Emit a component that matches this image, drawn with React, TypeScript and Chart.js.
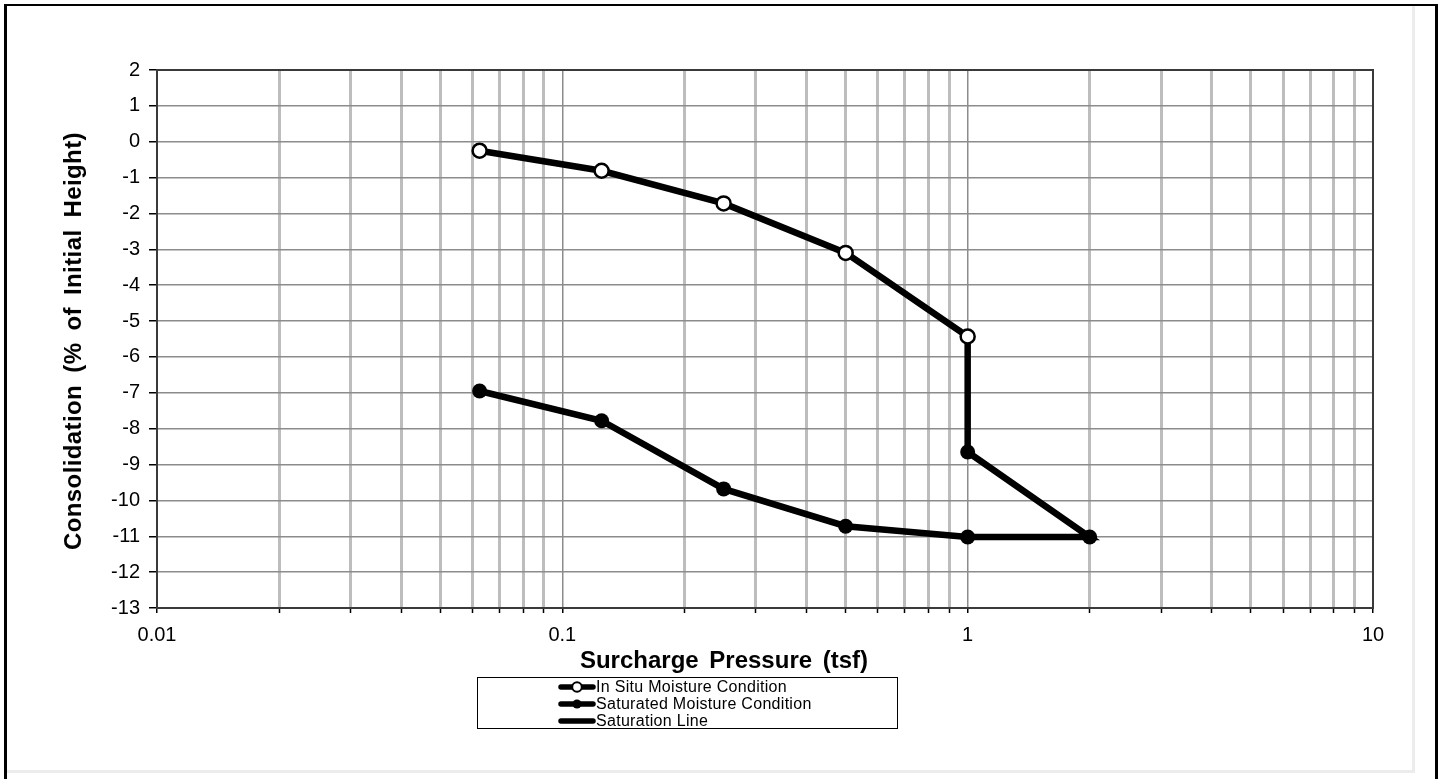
import React, { useEffect, useRef } from "react";
import { Chart, registerables } from "chart.js";

Chart.register(...registerables);

// ---- data ----
const IN_SITU_X = [0.0625, 0.125, 0.25, 0.5, 1];
const IN_SITU_Y = [-0.25, -0.81, -1.72, -3.1, -5.43];

const SATURATED_X = [1, 2, 1, 0.5, 0.25, 0.125, 0.0625];
const SATURATED_Y = [-8.65, -11.02, -11.02, -10.72, -9.68, -7.78, -6.95];

const SAT_LINE_X = [1, 1];
const SAT_LINE_Y = [-5.43, -8.65];

const X_GRID = [
  0.01, 0.02, 0.03, 0.04, 0.05, 0.06, 0.07, 0.08, 0.09,
  0.1, 0.2, 0.3, 0.4, 0.5, 0.6, 0.7, 0.8, 0.9,
  1, 2, 3, 4, 5, 6, 7, 8, 9, 10,
];
const X_MAJOR = [0.01, 0.1, 1, 10];
const X_MAJOR_LABELS = ["0.01", "0.1", "1", "10"];

const Y_MIN = -13;
const Y_MAX = 2;

const SERIES_NAMES = [
  "In Situ Moisture Condition",
  "Saturated Moisture Condition",
  "Saturation Line",
];

const X_TITLE = "Surcharge Pressure (tsf)";
const Y_TITLE = "Consolidation (% of Initial Height)";

const FONT = "'Liberation Sans', Arial, sans-serif";

function majorIndex(v: number | undefined): number {
  if (v === undefined || v === null) return -1;
  return X_MAJOR.findIndex((m) => Math.abs(Math.log10(m) - Math.log10(v)) < 1e-6);
}

function pts(xs: number[], ys: number[]) {
  return xs.map((x, i) => ({ x, y: ys[i] }));
}

const framePlugin = {
  id: "plotFrame",
  beforeDatasetsDraw(chart: any) {
    const { ctx, chartArea } = chart;
    ctx.save();
    ctx.strokeStyle = "#3a3a3a";
    ctx.lineWidth = 2;
    ctx.strokeRect(chartArea.left, chartArea.top, chartArea.right - chartArea.left, chartArea.bottom - chartArea.top);
    ctx.restore();
  },
};

function LegendSymbol({ kind }: { kind: number }) {
  return (
    <svg width={40} height={14} style={{ display: "block" }}>
      <line x1={3} y1={7} x2={35} y2={7} stroke="#000" strokeWidth={5.5} strokeLinecap="round" />
      {kind === 0 && <circle cx={19} cy={7} r={4.8} fill="#fff" stroke="#000" strokeWidth={2} />}
      {kind === 1 && <circle cx={19} cy={7} r={4.5} fill="#000" />}
    </svg>
  );
}

export default function App() {
  const canvasRef = useRef<HTMLCanvasElement | null>(null);

  useEffect(() => {
    const canvas = canvasRef.current;
    if (!canvas) return;
    const chart = new Chart(canvas, {
      type: "scatter",
      data: {
        datasets: [
          {
            label: SERIES_NAMES[0],
            data: pts(IN_SITU_X, IN_SITU_Y),
            showLine: true,
            borderColor: "#000",
            borderWidth: 6.5,
            pointRadius: 7,
            pointBorderWidth: 2.5,
            pointBackgroundColor: "#fff",
            pointBorderColor: "#000",
            order: 1,
          },
          {
            label: SERIES_NAMES[1],
            data: pts(SATURATED_X, SATURATED_Y),
            showLine: true,
            borderColor: "#000",
            borderWidth: 6.5,
            pointRadius: 7.5,
            pointBorderWidth: 0,
            pointBackgroundColor: "#000",
            pointBorderColor: "#000",
            order: 2,
          },
          {
            label: SERIES_NAMES[2],
            data: pts(SAT_LINE_X, SAT_LINE_Y),
            showLine: true,
            borderColor: "#000",
            borderWidth: 6.5,
            pointRadius: 0,
            order: 3,
          },
        ],
      },
      options: {
        responsive: false,
        animation: false,
        layout: { padding: { left: 57, top: 70, right: 68, bottom: 0 } },
        plugins: {
          legend: { display: false },
          tooltip: { enabled: false },
          title: { display: false },
        },
        scales: {
          x: {
            type: "logarithmic",
            position: "bottom",
            min: 0.01,
            max: 10,
            afterBuildTicks: (scale: any) => {
              scale.ticks = X_GRID.map((v) => ({ value: v, major: majorIndex(v) >= 0 }));
            },
            afterFit: (scale: any) => {
              scale.height = 171;
            },
            ticks: {
              autoSkip: false,
              maxRotation: 0,
              minRotation: 0,
              padding: 10,
              color: "#000",
              font: { family: FONT, size: 20 },
              callback: (value: any) => {
                const i = majorIndex(Number(value));
                return i >= 0 ? X_MAJOR_LABELS[i] : "";
              },
            },
            grid: {
              color: (ctx: any) => (majorIndex(ctx.tick?.value) >= 0 ? "#8c8c8c" : "#bdbdbd"),
              lineWidth: (ctx: any) => (majorIndex(ctx.tick?.value) >= 0 ? 1.5 : 3),
              tickColor: "#000",
              tickWidth: 1.5,
              tickLength: 5,
              drawTicks: true,
            },
            border: { color: "#000", width: 2 },
          },
          y: {
            type: "linear",
            min: Y_MIN,
            max: Y_MAX,
            afterFit: (scale: any) => {
              scale.width = 100;
            },
            ticks: {
              stepSize: 1,
              padding: 9,
              color: "#000",
              font: { family: FONT, size: 20 },
            },
            grid: {
              color: "#8c8c8c",
              lineWidth: 1.5,
              tickColor: "#000",
              tickWidth: 1.5,
              tickLength: 8,
            },
            border: { color: "#000", width: 2 },
          },
        },
      },
      plugins: [framePlugin],
    } as any);
    return () => chart.destroy();
  }, []);

  return (
    <div style={{ position: "absolute", left: 0, top: 0, width: 1441, height: 779, background: "#fff", overflow: "hidden", fontFamily: FONT }}>
      {/* outer frame */}
      <div style={{ position: "absolute", left: 4, top: 4, width: 1428, height: 800, borderLeft: "3px solid #000", borderTop: "2px solid #000", borderRight: "3px solid #000" }} />
      <div style={{ position: "absolute", left: 1412, top: 6, width: 3, height: 766, background: "#ececec" }} />
      <div style={{ position: "absolute", left: 7, top: 770, width: 1408, height: 3, background: "#ececec" }} />
      <canvas ref={canvasRef} width={1441} height={779} style={{ position: "absolute", left: 0, top: 0, width: 1441, height: 779 }} />
      {/* y title */}
      <div style={{ position: "absolute", left: 73, top: 341, transform: "translate(-50%, -50%) rotate(-90deg)", whiteSpace: "nowrap", fontWeight: "bold", fontSize: 24, letterSpacing: 0.4, wordSpacing: 5, color: "#000", lineHeight: "28px" }}>
        {Y_TITLE}
      </div>
      {/* x title */}
      <div style={{ position: "absolute", left: 724, top: 660, transform: "translate(-50%, -50%)", whiteSpace: "nowrap", fontWeight: "bold", fontSize: 24, letterSpacing: 0, wordSpacing: 4, color: "#000", lineHeight: "28px" }}>
        {X_TITLE}
      </div>
      {/* legend */}
      <div style={{ position: "absolute", left: 477, top: 677, width: 419, height: 50, border: "1px solid #000", background: "#fff" }}>
        {SERIES_NAMES.map((name, i) => (
          <div key={name} style={{ position: "absolute", left: 80, top: 0 + i * 17, height: 17, display: "flex", alignItems: "center" }}>
            <LegendSymbol kind={i} />
            <span style={{ fontSize: 16, letterSpacing: 0.3, color: "#000", whiteSpace: "nowrap", marginLeft: -2 }}>{name}</span>
          </div>
        ))}
      </div>
    </div>
  );
}
